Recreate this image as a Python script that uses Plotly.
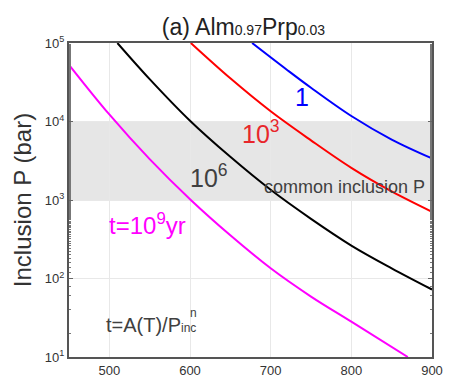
import plotly.graph_objects as go

# Data (T in °C, log10 of P in bar)
T_mag = [451, 500, 550, 601, 650, 700, 750, 800, 870]
logP_mag = [4.71, 4.09, 3.52, 3.00, 2.55, 2.13, 1.77, 1.45, 1.00]
T_blk = [510, 550, 600, 650, 700, 750, 800, 850, 900]
logP_blk = [5.00, 4.54, 4.01, 3.55, 3.13, 2.76, 2.42, 2.13, 1.86]
T_red = [601, 650, 700, 750, 800, 850, 900]
logP_red = [5.00, 4.55, 4.13, 3.76, 3.41, 3.11, 2.85]
T_blu = [677, 720, 750, 800, 850, 900]
logP_blu = [5.00, 4.66, 4.43, 4.07, 3.77, 3.53]

band_lo, band_hi = 1e3, 1e4
ytick_vals = [1e1, 1e2, 1e3, 1e4, 1e5]
ytick_text = ["10<sup>1</sup>", "10<sup>2</sup>", "10<sup>3</sup>", "10<sup>4</sup>", "10<sup>5</sup>"]
xtick_vals = [500, 600, 700, 800, 900]

FONT = "Liberation Sans, Arial, sans-serif"
fig = go.Figure()

fig.add_shape(type="rect", xref="x", yref="y", x0=450, x1=900, y0=band_lo, y1=band_hi,
              fillcolor="#e6e6e6", line_width=0, layer="below")

for T, L, c in [(T_mag, logP_mag, "#ff00ff"), (T_blk, logP_blk, "#000000"),
                (T_red, logP_red, "#ff0000"), (T_blu, logP_blu, "#0000ff")]:
    fig.add_trace(go.Scatter(x=T, y=[10 ** v for v in L], mode="lines",
                             line=dict(color=c, width=2, shape="spline", smoothing=1.0),
                             showlegend=False))

ann = [
    (739, 4.31, "1", "#0000ff", 25, "center"),
    (688, 3.86, "10<sup>3</sup>", "#e8262b", 25, "center"),
    (624, 3.31, "10<sup>6</sup>", "#404040", 25, "center"),
    (792, 3.16, "common inclusion P", "#404040", 18, "center"),
    (547, 2.69, "t=10<sup>9</sup>yr", "#ff00ff", 24, "center"),
    (493, 1.41, "t=A(T)/P<span style='font-size:12px'>inc</span>", "#404040", 20, "left"),
    (597, 1.56, "n", "#404040", 12, "left"),
]
for x, y, t, c, s, xa in ann:
    fig.add_annotation(x=x, y=y, text=t, showarrow=False, xanchor=xa,
                       font=dict(color=c, size=s, family=FONT))

fig.update_layout(
    width=455, height=390, margin=dict(l=69, r=16, t=43, b=29),
    paper_bgcolor="white", plot_bgcolor="white",
    font=dict(family=FONT, color="#333333"),
    title=dict(text="(a) Alm<span style='font-size:14px'>0.97</span>Prp<span style='font-size:14px'>0.03</span>",
               x=0.535, xref="container", xanchor="center",
               y=0.932, yref="container", yanchor="middle",
               font=dict(size=23, color="#222222", family=FONT)),
)
fig.update_xaxes(range=[450, 900], tickvals=xtick_vals, showgrid=True, gridcolor="#e8e8e8",
                 showline=True, linecolor="#555555", linewidth=2, mirror=True,
                 ticks="", tickfont=dict(size=13, color="#333333"), zeroline=False)
fig.update_yaxes(type="log", range=[1, 5], tickvals=ytick_vals, ticktext=ytick_text,
                 showgrid=True, gridcolor="#e8e8e8",
                 showline=True, linecolor="#555555", linewidth=2, mirror="allticks",
                 ticks="inside", ticklen=4, tickcolor="#666666",
                 minor=dict(ticks="inside", ticklen=2, tickcolor="#777777", showgrid=False),
                 tickfont=dict(size=13, color="#333333"),
                 title=dict(text="Inclusion P (bar)", font=dict(size=24, color="#333333", family=FONT), standoff=6))

fig.write_html("out.html")
